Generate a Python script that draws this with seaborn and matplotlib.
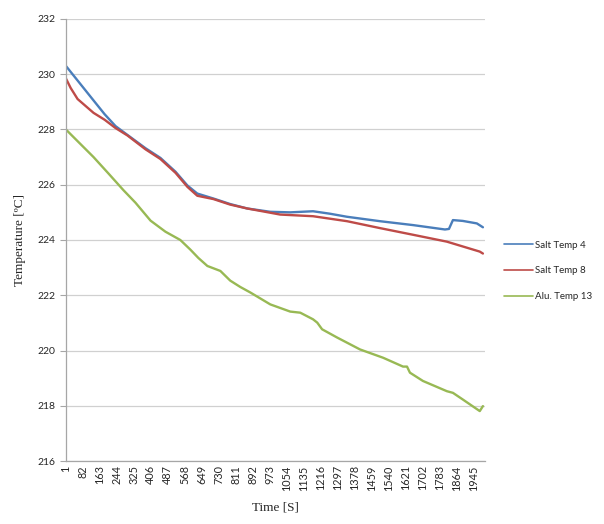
import numpy as np
import pandas as pd
import matplotlib
matplotlib.use('Agg')
import matplotlib.pyplot as plt
import seaborn as sns

# Valores (tempo em s, temperatura em ºC)
salt4_time = [1, 38, 133, 186, 238, 295, 381, 452, 524, 581, 628, 705, 785, 866,
              976, 1071, 1180, 1261, 1342, 1499, 1656, 1809, 1828, 1847, 1894, 1961, 1990]
salt4_temp = [230.3, 229.95, 229.05, 228.55, 228.12, 227.8, 227.32, 226.97, 226.47, 225.97,
              225.68, 225.5, 225.3, 225.14, 225.02, 225.0, 225.04, 224.95, 224.84, 224.68,
              224.54, 224.38, 224.4, 224.72, 224.69, 224.6, 224.46]

salt8_time = [1, 24, 57, 95, 133, 186, 238, 295, 381, 452, 524, 581, 628, 705, 785,
              866, 1023, 1180, 1342, 1499, 1656, 1818, 1975, 1990]
salt8_temp = [229.85, 229.5, 229.1, 228.85, 228.6, 228.35, 228.05, 227.78, 227.28, 226.93,
              226.43, 225.92, 225.6, 225.48, 225.28, 225.14, 224.92, 224.86, 224.68, 224.43,
              224.19, 223.94, 223.58, 223.51]

alu13_time = [1, 133, 205, 276, 333, 405, 476, 547, 595, 633, 676, 738, 785, 833, 881,
              976, 1071, 1119, 1180, 1200, 1223, 1295, 1404, 1514, 1609, 1628, 1642, 1704,
              1818, 1847, 1894, 1975, 1990]
alu13_temp = [228.0, 227.0, 226.4, 225.8, 225.35, 224.7, 224.3, 224.0, 223.65, 223.35,
              223.06, 222.88, 222.53, 222.3, 222.1, 221.67, 221.41, 221.37, 221.13, 221.01,
              220.77, 220.47, 220.04, 219.74, 219.42, 219.42, 219.2, 218.9, 218.53, 218.47,
              218.23, 217.81, 217.99]

series_names = ['Salt Temp 4', 'Salt Temp 8', 'Alu. Temp 13']
series_colors = ['#4A7EBB', '#BE4B48', '#98B954']
x_tick_labels = list(range(1, 2000, 81))
y_ticks = list(range(216, 233, 2))

df = pd.concat([
    pd.DataFrame({'time': salt4_time, 'temp': salt4_temp, 'serie': series_names[0]}),
    pd.DataFrame({'time': salt8_time, 'temp': salt8_temp, 'serie': series_names[1]}),
    pd.DataFrame({'time': alu13_time, 'temp': alu13_temp, 'serie': series_names[2]}),
], ignore_index=True)

sns.set_style('white')
plt.rcParams['font.family'] = ['Lato', 'DejaVu Sans']

fig = plt.figure(figsize=(6.04, 5.24), dpi=100)
ax = fig.add_axes([0.109, 0.120, 0.694, 0.844])

sns.lineplot(data=df, x='time', y='temp', hue='serie', hue_order=series_names,
             palette=series_colors, estimator=None, linewidth=1.7, ax=ax)

ax.set_xlim(1, 2000)
ax.set_ylim(216, 232)
ax.set_yticks(y_ticks)
ax.set_xticks(x_tick_labels)
ax.set_xticklabels([str(v) for v in x_tick_labels], rotation=90, fontsize=7.8)
ax.tick_params(axis='y', labelsize=7.5, length=4, color='#A6A6A6', left=True)
ax.tick_params(axis='x', length=0, pad=3)

ax.grid(axis='y', color='#D0D0D0', linewidth=0.9)
ax.grid(axis='x', visible=False)
for side in ['top', 'right']:
    ax.spines[side].set_visible(False)
for side in ['left', 'bottom']:
    ax.spines[side].set_color('#A6A6A6')
    ax.spines[side].set_linewidth(0.9)

ax.set_xlabel('Time [S]', family='Liberation Serif', fontsize=9.5, labelpad=8)
ax.set_ylabel('Temperature [ºC]', family='Liberation Serif', fontsize=9.5, labelpad=8)

leg = ax.legend(loc='center left', bbox_to_anchor=(0.82, 0.483),
                bbox_transform=fig.transFigure, frameon=False, fontsize=7,
                handlelength=3, labelspacing=1.7, handletextpad=0.2)
for line in leg.get_lines():
    line.set_linewidth(1.2)

fig.savefig('out.png', dpi=100)
